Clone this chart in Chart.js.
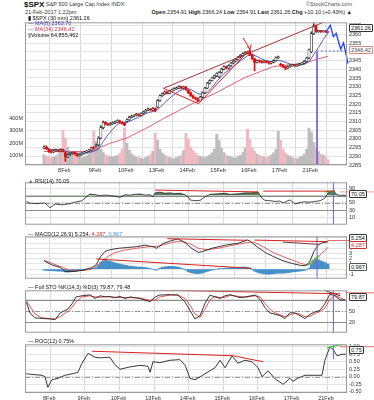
<!DOCTYPE html>
<html><head><meta charset="utf-8">
<script src="https://cdn.jsdelivr.net/npm/chart.js@4.4.1/dist/chart.umd.min.js"></script>
<style>
html,body{margin:0;padding:0;background:#fff}
#wrap{position:relative;width:374px;height:400px;overflow:hidden;font-family:'Liberation Sans',Arial,sans-serif;color:#111;background:#fff}
canvas{position:absolute;left:0}
.t{position:absolute;white-space:nowrap;line-height:1}
.box{position:absolute;left:349px;font-size:5.5px;line-height:6px;padding:0 1px;border:0.8px solid #333;background:#fff;transform:translateY(-50%);border-radius:1px;white-space:nowrap;z-index:5}
.lg{position:absolute;left:28px;font-size:5.5px;line-height:1;white-space:nowrap;z-index:4}
b{font-weight:bold}
</style></head>
<body>
<div id="wrap">
  <div class="t" style="left:24px;top:1px;font-size:8px;font-weight:bold">$SPX</div>
  <div class="t" style="left:46px;top:2.4px;font-size:5.5px;color:#333">S&amp;P 500 Large Cap Index INDX</div>
  <div class="t" style="right:22px;top:2.4px;font-size:5.5px;color:#555">©StockCharts.com</div>
  <div class="t" style="left:25px;top:10px;font-size:5.5px;color:#333">21-Feb-2017 1:22pm</div>
  <div class="t" style="right:22px;top:10px;font-size:5.5px;color:#222"><b>Open</b> 2354.91 <b>High</b> 2366.24 <b>Low</b> 2354.91 <b>Last</b> 2361.26 <b>Chg</b> +10.10 (+0.43%) ▲</div>

  <canvas id="cPrice" width="374" height="161" style="top:17px"></canvas>
  <canvas id="cRsi" width="374" height="53" style="top:177px"></canvas>
  <canvas id="cMacd" width="374" height="53" style="top:231px"></canvas>
  <canvas id="cSto" width="374" height="53" style="top:285px"></canvas>
  <canvas id="cRoc" width="374" height="61" style="top:339px"></canvas>

  <div class="lg" style="top:15.5px">▮ $SPX (30 min) 2361.26</div>
  <div class="lg" style="top:21.3px;color:#3a3ab0">— MA(8) 2363.70</div>
  <div class="lg" style="top:27px;color:#c83050">— MA(34) 2346.42</div>
  <div class="lg" style="top:32.6px"><span style="color:#999">▮</span>Volume 64,855,462</div>

  <div class="lg" style="top:178.5px"><span style="color:#4d7a4d">▲</span> RSI(14) 70.05</div>
  <div class="lg" style="top:231.6px">— MACD(12,26,9) 5.254, <span style="color:#d03030">4.287</span>, <span style="color:#3a9ad9">0.967</span></div>
  <div class="lg" style="top:284.8px">— Full STO %K(14,3) %D(3) 79.87, 79.48</div>
  <div class="lg" style="top:339.2px">— ROC(12) 0.75%</div>

  <div class="box" style="top:27.7px">2361.26</div>
  <div class="box" style="top:50px;border-color:#d88;color:#444">2346.42</div>
  <div class="box" style="top:194px">70.05</div>
  <div class="box" style="top:238px">5.254</div>
  <div class="box" style="top:245px;border-color:#d03030;color:#d03030">4.287</div>
  <div class="box" style="top:267px;border-color:#555">0.967</div>
  <div class="box" style="top:297px">79.87</div>
  <div class="box" style="top:350px">0.75</div>
</div>
<script>
// ---------- DATA ----------
const dayLabels = ['8Feb','9Feb','10Feb','13Feb','14Feb','15Feb','16Feb','17Feb','21Feb'];
const dayStarts = [9, 22, 35, 48, 61, 74, 87, 100, 113];

const opens = [
 2294.8,2295.5,2294.2,2292.8,2292.5,2293.2,2293.6,2293.0,2293.8,
 2292.0,2289.6,2291.0,2291.6,2292.2,2291.2,2290.4,2291.0,2291.8,2292.4,2293.0,2293.6,2294.8,
 2295.9,2296.5,2300.5,2306.5,2309.5,2308.6,2308.2,2308.8,2309.3,2309.8,2310.4,2309.6,2308.9,
 2310.0,2311.0,2312.4,2313.0,2313.6,2314.2,2313.5,2314.6,2315.5,2316.6,2317.2,2316.6,2317.5,
 2318.3,2322.0,2324.8,2326.0,2327.0,2326.2,2327.6,2328.2,2328.8,2329.3,2330.0,2329.2,2329.8,
 2328.0,2326.5,2324.8,2323.6,2323.2,2321.9,2324.0,2326.5,2329.2,2332.0,2333.5,2335.0,2336.2,
 2335.6,2338.2,2340.1,2341.5,2340.6,2342.1,2343.5,2344.6,2345.6,2347.0,2348.0,2349.0,2349.6,
 2350.6,2348.4,2346.0,2344.0,2345.0,2344.6,2344.0,2344.5,2344.1,2343.5,2344.1,2345.0,2346.6,
 2343.0,2342.4,2341.5,2340.6,2341.5,2342.0,2342.5,2342.1,2342.6,2343.0,2343.5,2344.6,2346.5,
 2350.0,2360.5,2364.8,2361.6,2362.0,2361.6,2361.9,2361.5
];
const highs = [
 2296.0,2296.0,2294.5,2293.4,2293.8,2294.2,2294.0,2294.3,2294.2,
 2292.6,2291.4,2292.0,2292.6,2292.6,2291.8,2291.4,2292.2,2292.8,2293.4,2294.0,2295.3,2295.5,
 2297.0,2301.2,2307.5,2310.2,2310.0,2309.0,2309.4,2309.8,2310.3,2311.0,2310.8,2310.0,2309.3,
 2311.5,2312.9,2313.5,2314.0,2314.7,2314.6,2315.0,2316.0,2317.0,2317.7,2317.6,2318.0,2317.9,
 2322.6,2325.3,2326.5,2327.6,2327.4,2328.0,2328.6,2329.3,2329.8,2330.5,2330.4,2330.3,2330.2,
 2328.4,2327.0,2325.3,2324.1,2323.6,2324.5,2327.0,2329.7,2332.5,2334.0,2335.5,2336.7,2338.0,
 2338.7,2340.6,2342.0,2341.9,2342.6,2344.0,2345.0,2346.0,2347.5,2348.5,2349.5,2350.2,2350.3,
 2351.3,2348.9,2346.4,2345.5,2345.4,2345.0,2345.0,2344.9,2344.5,2344.6,2345.5,2347.1,2347.6,
 2343.6,2342.9,2341.9,2342.0,2342.5,2343.0,2342.9,2343.0,2343.5,2344.0,2345.0,2347.0,2351.6,
 2361.5,2366.2,2365.4,2362.5,2362.4,2362.3,2362.3,2362.0
];
const lows = [
 2294.2,2293.9,2292.2,2291.8,2292.1,2292.8,2292.6,2292.7,2292.6,
 2287.0,2289.2,2290.5,2291.2,2290.8,2290.0,2290.0,2290.6,2291.4,2292.0,2292.6,2293.2,2294.2,
 2295.4,2296.0,2300.0,2305.8,2308.0,2307.6,2307.8,2308.3,2308.8,2309.3,2309.2,2308.4,2307.5,
 2309.5,2310.6,2312.0,2312.6,2313.2,2313.0,2313.2,2314.2,2315.2,2316.2,2316.1,2316.2,2315.7,
 2318.0,2321.6,2324.4,2325.6,2325.8,2325.9,2327.2,2327.8,2328.4,2328.9,2328.8,2328.8,2327.9,
 2326.0,2324.4,2323.2,2322.6,2321.2,2321.5,2323.6,2326.0,2328.8,2331.6,2333.1,2334.6,2335.8,
 2335.2,2337.8,2339.7,2340.2,2340.2,2341.7,2343.1,2344.2,2345.2,2346.6,2347.6,2348.6,2348.9,
 2348.0,2345.6,2339.0,2343.6,2344.0,2343.5,2343.6,2343.6,2343.0,2343.1,2343.7,2344.6,2346.2,
 2341.8,2341.0,2339.6,2340.2,2341.1,2341.6,2341.6,2341.7,2342.2,2342.6,2343.1,2344.2,2346.0,
 2349.5,2360.0,2361.2,2361.2,2361.2,2361.3,2361.2,2361.0
];
const closes = [
 2295.5,2294.2,2292.8,2292.5,2293.2,2293.6,2293.0,2293.8,2293.1,
 2289.6,2291.0,2291.6,2292.2,2291.2,2290.4,2291.0,2291.8,2292.4,2293.0,2293.6,2294.8,2294.7,
 2296.5,2300.5,2306.5,2309.5,2308.6,2308.2,2308.8,2309.3,2309.8,2310.4,2309.6,2308.9,2307.9,
 2311.0,2312.4,2313.0,2313.6,2314.2,2313.5,2314.6,2315.5,2316.6,2317.2,2316.6,2317.5,2316.1,
 2322.0,2324.8,2326.0,2327.0,2326.2,2327.6,2328.2,2328.8,2329.3,2330.0,2329.2,2329.8,2328.3,
 2326.5,2324.8,2323.6,2323.2,2321.9,2324.0,2326.5,2329.2,2332.0,2333.5,2335.0,2336.2,2337.6,
 2338.2,2340.1,2341.5,2340.6,2342.1,2343.5,2344.6,2345.6,2347.0,2348.0,2349.0,2349.6,2349.3,
 2348.4,2346.0,2344.0,2345.0,2344.6,2344.0,2344.5,2344.1,2343.5,2344.1,2345.0,2346.6,2347.2,
 2342.4,2341.5,2340.6,2341.5,2342.0,2342.5,2342.1,2342.6,2343.0,2343.5,2344.6,2346.5,2351.2,
 2360.5,2364.8,2361.6,2362.0,2361.6,2361.9,2361.5,2361.3
];
// volume, millions
const volumes = [
 105,95,88,80,84,92,108,150,305,
 240,165,130,112,98,90,84,80,88,96,112,155,297,
 215,185,150,122,104,96,90,85,92,100,115,150,323,
 200,142,112,96,86,80,76,72,82,92,104,135,283,
 222,150,118,100,90,82,76,72,82,90,102,140,281,
 232,170,140,118,100,92,86,80,90,100,120,152,273,
 220,160,122,102,92,86,80,80,90,100,122,160,313,
 230,160,132,110,100,92,85,80,90,100,120,150,297,
 222,150,120,100,90,82,76,72,82,92,110,150,323,
 290,205,160,130,110,100,90,65
];
const ma8 = [[0,2294.5],[4,2293.8],[8,2293.5],[10,2292.5],[14,2291.8],[18,2291.9],[21,2292.8],[23,2294.2],[25,2298.5],[27,2302.3],[29,2305.5],[31,2308.5],[33,2309.3],[36,2310.0],[40,2312.5],[44,2315.0],[47,2316.2],[49,2318.0],[51,2320.8],[54,2324.5],[57,2327.5],[60,2329.0],[62,2328.5],[65,2326.0],[67,2325.5],[69,2326.8],[71,2329.5],[73,2333.0],[76,2337.5],[79,2340.5],[83,2344.8],[86,2347.8],[88,2348.3],[90,2347.4],[93,2345.3],[96,2344.4],[99,2345.2],[101,2344.6],[104,2343.0],[107,2342.2],[110,2342.9],[112,2344.3],[114,2348.5],[116,2352.5],[118,2357.0],[120,2361.0]];
const ma34 = [[0,2292.8],[10,2292.5],[20,2293.0],[28,2297.5],[35,2300.5],[43,2306.0],[50,2311.3],[58,2317.0],[62,2319.8],[72,2326.0],[85,2335.3],[97,2341.6],[110,2343.5],[116,2346.0],[120,2347.5]];
const rsi = [[0,54.5],[1.4,49],[4.4,48],[7,50],[8.9,37],[10.8,47],[13.4,45],[16.4,48],[18.3,52],[20.9,56],[22,63],[23.9,74],[25.8,72],[27.7,70],[29.6,71],[31.4,70],[33.3,68],[35.2,65],[37.1,72],[39,71],[40.8,73],[42.7,74],[44.6,71],[46.5,72],[47.6,66],[48.4,77],[50.2,79],[52.1,76],[54,77],[55.9,75],[57.7,76],[59.6,72],[60.8,66],[61.5,58],[63.4,56],[65.3,57],[67.1,66],[69,73],[70.9,74],[72.8,75],[74.7,76],[76.6,73],[78.4,74],[80.3,75],[82.2,77],[84.1,77],[86,78],[87.1,79],[88.6,62],[89.7,57],[91.6,56],[93.5,54],[95.3,55],[96.5,50],[98,55],[99.1,58],[101,47],[102.8,51],[104.7,53],[106.6,52],[108.5,54],[110.4,56],[112.2,63],[113.4,77],[114.5,81],[115.7,80],[116.8,72],[118,70],[119.1,71],[120.1,70]];
const macd = [[0,1.6],[3.3,0.8],[7,0.3],[8.9,-0.45],[12.7,-0.45],[16.4,-0.2],[20.2,0.3],[22,0.8],[23.9,2.4],[25.8,3.4],[27.7,3.7],[31.4,4.0],[35.2,4.15],[39,4.3],[42.7,4.6],[46.5,4.25],[47.6,4.0],[50.2,4.9],[54,5.5],[56.6,5.8],[59.6,5.1],[62.6,3.9],[65.3,3.2],[67.1,3.4],[70.9,4.0],[76.6,4.6],[82.2,5.0],[86,5.6],[87.1,5.4],[89.7,4.4],[93.5,3.2],[97.2,2.35],[101,1.6],[104.7,1.1],[108.5,0.7],[110.4,0.65],[112.2,1.3],[114.1,3.4],[116,4.7],[117.9,5.1],[120.1,5.25]];
const signal = [[0,1.7],[5.1,0.8],[10.8,-0.2],[16.4,-0.3],[20.2,0.0],[23.2,0.8],[25.8,2.1],[29.6,3.1],[33.3,3.6],[39,4.0],[44.6,4.3],[48.4,4.4],[54,5.1],[57.7,5.4],[61.5,4.9],[65.3,4.0],[69,3.7],[74.7,4.1],[80.3,4.65],[86,5.1],[88.6,5.2],[92.3,4.4],[97.2,3.1],[102.8,2.1],[108.5,1.1],[111.1,0.8],[114.1,1.3],[117.1,2.9],[120.1,4.2]];
const hist = [
 -0.2,-0.25,-0.3,-0.3,-0.35,-0.35,-0.4,-0.4,-0.45,
 -0.55,-0.6,-0.55,-0.5,-0.45,-0.4,-0.3,-0.25,-0.2,-0.1,-0.05,0.05,0.15,
 0.3,0.8,1.3,1.6,1.7,1.6,1.5,1.35,1.2,1.05,0.95,0.85,0.75,
 0.7,0.6,0.55,0.5,0.45,0.4,0.4,0.35,0.3,0.2,0.1,0.0,-0.2,
 -0.1,0.2,0.35,0.45,0.5,0.55,0.55,0.5,0.45,0.35,0.2,0.0,-0.2,
 -0.5,-0.7,-0.8,-0.85,-0.9,-0.85,-0.75,-0.6,-0.45,-0.3,-0.2,-0.1,0.0,
 0.05,0.1,0.15,0.2,0.25,0.3,0.3,0.3,0.35,0.35,0.4,0.4,0.35,
 0.2,-0.1,-0.4,-0.6,-0.75,-0.85,-0.95,-1.0,-1.0,-0.95,-0.9,-0.85,-0.8,
 -0.8,-0.8,-0.75,-0.7,-0.65,-0.55,-0.5,-0.45,-0.4,-0.35,-0.25,-0.1,0.2,
 0.9,1.6,2.0,1.8,1.6,1.4,1.2,0.97
];
const stoK = [[0,73.6],[1.4,45],[3.3,32],[5.9,30.3],[8.9,29],[10.8,27],[12.7,45],[15.7,56],[17.2,70],[18.7,88],[20.9,91],[23.9,93.5],[25.8,84],[27.7,91],[29.6,88],[31.4,89],[33.3,86],[35.2,89],[37.1,84],[39,88],[42.7,84],[46.5,75],[48.4,88],[50.2,93],[54,94],[57,93],[59.6,75],[61.5,52],[63.4,29],[65.3,38],[67.1,70],[69,92.8],[70.9,88],[72.8,84],[74.7,91],[76.6,94],[80.3,86],[82.2,88],[86,93],[87.9,80.6],[89.7,59],[91.6,45],[93.5,41.5],[95.3,38],[97.2,30],[99.1,46],[101,45],[102.8,38],[104.7,30],[106.6,41.5],[108.5,48],[110.4,52],[112.2,70],[114.1,95],[116,91],[117.9,80],[119.8,79.9]];
const stoD = [[0,78],[1.4,62],[3.3,42],[5.9,32],[8.9,30],[10.8,29],[12.7,35],[15.7,50],[17.2,60],[18.7,75],[20.9,88],[23.9,91],[25.8,88],[27.7,87],[29.6,89],[31.4,88],[33.3,87],[35.2,87],[37.1,86],[39,86],[42.7,85],[46.5,79],[48.4,80],[50.2,88],[54,93],[57,93],[59.6,84],[61.5,66],[63.4,42],[65.3,33],[67.1,55],[69,80],[70.9,90],[72.8,86],[74.7,87],[76.6,92],[80.3,89],[82.2,87],[86,91],[87.9,88],[89.7,70],[91.6,55],[93.5,45],[95.3,40],[97.2,35],[99.1,40],[101,44],[102.8,42],[104.7,35],[106.6,36],[108.5,44],[110.4,49],[112.2,58],[114.1,82],[116,92],[117.9,86],[119.8,79.5]];
const roc = [[0,0.1],[3.3,0.07],[5.9,0.05],[7,0.0],[8.1,-0.35],[9.6,-0.1],[11.9,-0.05],[14.5,0.05],[17.2,0.1],[19.4,0.15],[20.9,0.45],[23.2,0.78],[25.8,0.65],[27.7,0.63],[31.4,0.65],[33.3,0.4],[35.2,0.25],[39,0.33],[42.7,0.38],[45.7,0.35],[46.5,0.15],[47.6,0.5],[50.2,0.47],[54,0.55],[57.7,0.57],[59.6,0.4],[61.5,-0.05],[63.4,-0.1],[65.3,0.0],[69,0.2],[70.9,0.3],[72.8,0.55],[74.7,0.3],[77.3,0.7],[79.5,0.45],[82.2,0.55],[84.8,0.5],[87.1,0.3],[88.6,0.0],[90.8,0.2],[93.5,-0.07],[96.5,-0.25],[99.1,-0.05],[100.2,-0.15],[102.1,-0.05],[104.7,0.05],[108.5,0.05],[111.1,0.05],[112.2,0.55],[114.1,1.0],[115.3,0.9],[116.8,0.7],[118.7,0.75],[120.1,0.75]];

// drawn annotations (bar index, value)
const markerX = 115.4;
const priceTop = [[50.9,2329.3],[118.6,2367.3]];
const priceX = [[50.2,2329.3],[65.3,2320.2]];
const priceWedge = [[65.3,2320.2],[86.7,2350.9]];
const priceArrow = [[84.1,2358.1],[87.1,2351.5]];
const priceArrowHead = [[85.8,2353.1],[87.1,2351.5],[87.6,2354.3]];
const priceDash = [[115.3,2350.5],[127.3,2350.5]];
const priceZig = [[119.0,2361.0],[121.0,2365.3],[122.3,2358.8],[123.5,2360.7],[125.4,2351.5],[126.6,2355.2],[128.5,2343.2]];
const rsiRed1 = [[48.4,84.6],[87.1,79.7]];
const rsiRed2 = [[89.0,81.8],[116.0,81.8]];
const rsiPink = [[117.9,79.7],[130.7,79.7]];
const rsiGreen = [[112.2,80],[116,82.5]];
const macdRed1 = [[52.1,5.85],[85.9,5.54]];
const macdRed2 = [[88.9,5.58],[119.8,5.28]];
const macdBrown = [[101,5.2],[116,4.75]];
const macdRed3 = [[22.1,1.95],[87.8,0.15]];
const macdGreen = [[111.1,0.66],[116.2,2.6]];
const macdPink = [[119.8,5.5],[130.7,5.5]];
const stoRed = [[22.1,110],[118,96.5]];
const stoPink = [[119.8,99],[130.7,99]];
const stoDark = [[112.2,105],[118,91]];
const rocRed = [[24.7,0.85],[77.7,0.70],[89.0,0.50]];
const rocGreen = [[113,0.96],[120,1.11]];
const rocPink = [[117.9,1.0],[130.7,1.0]];

// ---------- CHARTS ----------
const FONT = "'Liberation Sans', Arial, sans-serif";
const TICKFONT = {family: FONT, size: 5.5};
const N = closes.length;
const idx = closes.map((_, i) => i);
const isUp = idx.map(i => closes[i] >= opens[i]);
const RED = '#e01010', UPC = '#333';
const BLUE = '#6f63dc';
const pts = a => a.map(p => ({x: p[0], y: p[1]}));

function line(a, color, w, extra) {
  return Object.assign({type: 'line', data: pts(a), borderColor: color, borderWidth: w,
    pointRadius: 0, tension: 0, fill: false, order: 0, xAxisID: 'x', yAxisID: 'y'}, extra || {});
}
function xScale(showLabels, h) {
  return {type: 'linear', axis: 'x', bounds: 'data',
    afterDataLimits: s => { s.min = -0.5; s.max = 120.5; },
    afterBuildTicks: s => { s.ticks = dayStarts.map(v => ({value: v})); },
    afterFit: s => { s.height = h; },
    ticks: {display: showLabels, autoSkip: false, maxRotation: 0, padding: 2, font: TICKFONT,
      color: '#333', labelOffset: -1, callback: (v, i) => dayLabels[i]},
    grid: {color: '#dadada', lineWidth: 1, drawTicks: false},
    border: {display: false}};
}
function yScale(min, max, ticks, fmt, pos, width, gridShow) {
  return {type: 'linear', axis: 'y', position: pos || 'right', bounds: 'data', min, max,
    afterBuildTicks: s => { s.ticks = ticks.map(v => ({value: v})); },
    afterFit: s => { s.width = width || 27; },
    ticks: {font: TICKFONT, color: '#333', padding: 2, autoSkip: false, callback: fmt},
    grid: {display: gridShow !== false, color: '#e3e3e3', drawTicks: false},
    border: {display: false}};
}
const panelPlugin = {
  id: 'panel',
  beforeDatasetsDraw(chart, args, opts) {
    const {ctx, chartArea: a} = chart;
    const ys = chart.scales.y;
    (opts.lines || []).forEach(l => {
      const y = Math.round(ys.getPixelForValue(l.v)) + 0.5;
      ctx.save(); ctx.strokeStyle = l.c; ctx.lineWidth = l.w || 1; ctx.setLineDash(l.d || []);
      ctx.beginPath(); ctx.moveTo(a.left, y); ctx.lineTo(a.right, y); ctx.stroke(); ctx.restore();
    });
  },
  afterDraw(chart) {
    const {ctx, chartArea: a} = chart;
    ctx.save(); ctx.strokeStyle = '#9a9a9a'; ctx.lineWidth = 1;
    ctx.strokeRect(a.left + 0.5, a.top + 0.5, a.right - a.left - 1, a.bottom - a.top - 1);
    ctx.restore();
  }
};
function opts(padLeft, scales, lines) {
  return {responsive: false, animation: false, devicePixelRatio: 1, events: [],
    layout: {autoPadding: false, padding: {left: padLeft, right: 0, top: 0, bottom: 0}},
    plugins: {legend: {display: false}, tooltip: {enabled: false}, panel: {lines: lines || []}},
    scales};
}
const vline = (lo, hi) => line([[markerX, lo], [markerX, hi]], BLUE, 1);

// Price panel
const volColors = idx.map(i => closes[i] < (i ? closes[i - 1] : opens[i]) ? '#f1bac2' : '#bdbdbd');
const priceTicks = []; for (let v = 2285; v <= 2365; v += 5) priceTicks.push(v);
new Chart(document.getElementById('cPrice'), {
  type: 'bar',
  data: {datasets: [
    {type: 'bar', xAxisID: 'x', yAxisID: 'yv', data: idx.map(i => ({x: i, y: volumes[i] * 1e6})),
      backgroundColor: volColors, barThickness: 2.3, grouped: false, order: 10},
    line(ma34, '#d8506a', 0.9, {order: 6}),
    line(ma8, '#4a4ab8', 0.9, {order: 5}),
    {type: 'bar', xAxisID: 'x', yAxisID: 'y', data: idx.map(i => ({x: i, y: [lows[i], highs[i]]})),
      backgroundColor: idx.map(i => isUp[i] ? UPC : RED), barThickness: 1, grouped: false, order: 4},
    {type: 'bar', xAxisID: 'x', yAxisID: 'y', data: idx.map(i => ({x: i, y: [opens[i], closes[i]]})),
      backgroundColor: idx.map(i => i === N - 1 ? '#f3e02a' : (isUp[i] ? '#fff' : RED)),
      borderColor: idx.map(i => isUp[i] ? UPC : RED), borderWidth: 0.7, borderSkipped: false,
      barThickness: 2.4, minBarLength: 1, grouped: false, order: 3},
    line(priceTop, '#a83232', 1),
    line(priceX, '#e02020', 1),
    line(priceWedge, '#e02020', 1),
    line(priceArrow, '#e02020', 1),
    line(priceArrowHead, '#e02020', 1),
    vline(2349.8, 2285),
    line(priceDash, '#4040c0', 0.8, {borderDash: [2, 2], clip: false}),
    line(priceZig, '#2040ff', 1.3, {clip: false})
  ]},
  options: opts(0, {
    x: xScale(true, 13),
    y: yScale(2285, 2367, priceTicks, v => v),
    yv: yScale(21e6, 1189e6, [100e6, 200e6, 300e6, 400e6], v => (v / 1e6) + 'M', 'left', 25, false)
  }),
  plugins: [panelPlugin]
});

// RSI panel
new Chart(document.getElementById('cRsi'), {
  type: 'line',
  data: {datasets: [
    line(rsi, '#222', 0.8, {order: 2, fill: {target: {value: 70}, above: '#55805a', below: 'rgba(0,0,0,0)'}}),
    line(rsiRed1, '#d82020', 1), line(rsiRed2, '#d82020', 1),
    line(rsiPink, '#f0a0a0', 1, {clip: false}), line(rsiGreen, '#30d030', 1.2),
    vline(-8.5, 105.5)
  ]},
  options: opts(25, {x: xScale(false, 0), y: yScale(-8.5, 105.5, [10, 30, 50, 70, 90], v => v)},
    [{v: 70, c: '#8a8a8a'}, {v: 30, c: '#8a8a8a'}, {v: 50, c: '#9a9a9a', d: [5, 2, 1, 2]}]),
  plugins: [panelPlugin]
});

// MACD panel
new Chart(document.getElementById('cMacd'), {
  type: 'bar',
  data: {datasets: [
    {type: 'bar', xAxisID: 'x', yAxisID: 'y', data: idx.map(i => ({x: i, y: hist[i]})),
      backgroundColor: '#4590c8', barThickness: 2.3, grouped: false, order: 5},
    line(signal, '#e05050', 0.9, {order: 3}),
    line(macd, '#222', 0.9, {order: 2}),
    line(macdRed1, '#d82020', 1), line(macdRed2, '#d82020', 1), line(macdBrown, '#7a3a3a', 1),
    line(macdRed3, '#d82020', 1), line(macdGreen, '#30d030', 1.2),
    line(macdPink, '#e07070', 1, {clip: false}),
    vline(-1.85, 6.31)
  ]},
  options: opts(25, {x: xScale(false, 0), y: yScale(-1.85, 6.31, [-1, 0, 1, 2, 3, 4, 5, 6], v => v)}),
  plugins: [panelPlugin]
});

// Full STO panel
new Chart(document.getElementById('cSto'), {
  type: 'line',
  data: {datasets: [
    line(stoD, '#e04040', 0.9, {order: 3}),
    line(stoK, '#222', 0.9, {order: 2}),
    line(stoRed, '#d82020', 1), line(stoDark, '#5a2a2a', 1),
    line(stoPink, '#e07070', 1, {clip: false}),
    vline(-7.8, 105.7)
  ]},
  options: opts(25, {x: xScale(false, 0), y: yScale(-7.8, 105.7, [20, 50, 80], v => v)},
    [{v: 80, c: '#8a8a8a'}, {v: 20, c: '#8a8a8a'}, {v: 50, c: '#9a9a9a', d: [5, 2, 1, 2]}]),
  plugins: [panelPlugin]
});

// ROC panel
new Chart(document.getElementById('cRoc'), {
  type: 'line',
  data: {datasets: [
    line(roc, '#222', 0.9, {order: 2}),
    line(rocRed, '#d82020', 1), line(rocGreen, '#30d030', 1.2),
    line(rocPink, '#e07070', 1, {clip: false}),
    vline(0.6, 1.081)
  ]},
  options: opts(25, {x: xScale(true, 7), y: yScale(-0.54, 1.081, [-0.5, -0.25, 0, 0.25, 0.5, 0.75, 1], v => v.toFixed(2))},
    [{v: 0, c: '#9a9a9a', d: [5, 2, 1, 2]}]),
  plugins: [panelPlugin]
});
</script>
</body></html>
